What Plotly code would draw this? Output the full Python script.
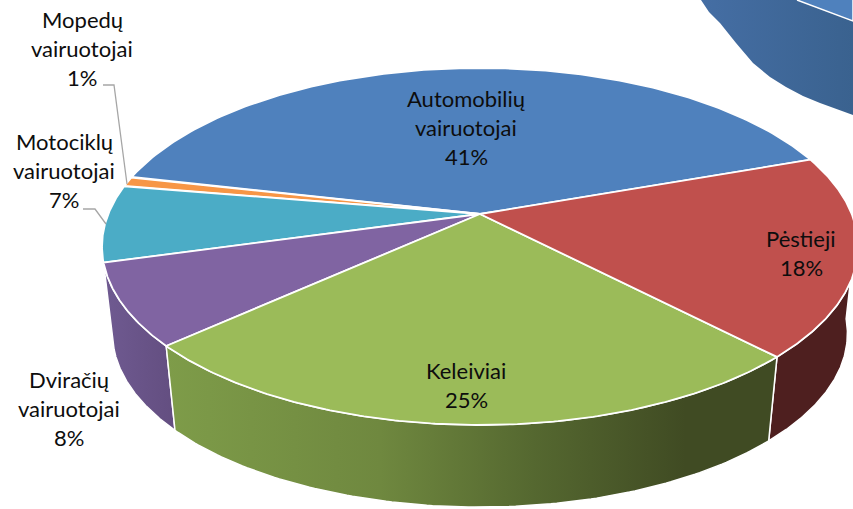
import numpy as np
import plotly.graph_objects as go

categories = ["Automobilių vairuotojai", "Pėstieji", "Keleiviai", "Dviračių vairuotojai", "Motociklų vairuotojai", "Mopedų vairuotojai"]
values = [41.0, 18.2, 25.5, 7.4, 7.0, 0.9]
percent_labels = ["41%", "18%", "25%", "8%", "7%", "1%"]
label_lines = [["Automobilių", "vairuotojai"], ["Pėstieji"], ["Keleiviai"], ["Dviračių", "vairuotojai"], ["Motociklų", "vairuotojai"], ["Mopedų", "vairuotojai"]]
label_x = [466, 801, 466, 69, 64, 82]
label_y = [98.5, 238.5, 370.5, 379.5, 141.5, 19.5]
top_colors = ["#4F81BD", "#C0504D", "#9BBB59", "#8064A2", "#4BACC6", "#F79646"]

# Perspective of the pie
CX, Y0, Y1, R, B, K, S = 480.0, 214.0, 302.0, 371.7, 172.6, 0.182, 0.972
START_DEG = 19.5


def top(t):
    u, v = np.cos(t), np.sin(t)
    w = 1 + K * v
    return CX + R * u / w, Y0 - B * v / w


def base(t):
    u, v = np.cos(t), np.sin(t)
    w = 1 + K * v
    return CX + S * R * u / w, Y1 - S * B * v / w


degrees = np.array(values) / sum(values) * 360
# Order on the circle, counter-clockwise from the blue/red border
ccw_order = [0, 5, 4, 3, 2, 1]
spans = {}
a = START_DEG
for i in ccw_order:
    spans[i] = (a, a + degrees[i])
    a += degrees[i]

fig = go.Figure()

# Fragment of the neighbouring pie, top right
frag_x = [701, 709, 720, 736, 753, 770, 786, 803, 820, 836, 853, 853, 797]
frag_y = [0, 12, 23, 43, 63, 77, 87, 96, 103, 109, 115, 21, 0]
frag_top_x = [797, 853, 853]
frag_top_y = [0, 21, 0]
fig.add_trace(go.Scatter(x=frag_x, y=frag_y, mode="lines", line=dict(color="rgba(0,0,0,0)", width=0),
                         fill="toself", hoverinfo="skip",
                         fillgradient=dict(type="horizontal", colorscale=[[0, "#456EA4"], [1, "#3A628F"]])))
fig.add_trace(go.Scatter(x=frag_top_x, y=frag_top_y, mode="lines", line=dict(color="white", width=1.5),
                         fill="toself", fillcolor="#4F81BD", hoverinfo="skip"))

# Walls
walls = [
    (3, [[0, "#6F5A91"], [1, "#634E80"]], spans[3][0], spans[3][1]),
    (1, [[0, "#4E1F1F"], [1, "#4E1F1F"]], spans[1][0], 355),
    (2, [[0, "#7E9C49"], [0.35, "#6F883F"], [0.6, "#556830"], [0.85, "#404B23"], [1, "#404B23"]], spans[2][0], spans[2][1]),
]
for idx, scale, d0, d1 in walls:
    t = np.radians(np.linspace(d0, d1, 120))
    xt, yt = top(t)
    xb, yb = base(t)
    fig.add_trace(go.Scatter(x=np.r_[xt, xb[::-1], xt[0]], y=np.r_[yt, yb[::-1], yt[0]], mode="lines",
                             line=dict(color="white", width=1.5), fill="toself", hoverinfo="skip",
                             fillgradient=dict(type="horizontal", colorscale=scale)))

# Top faces
for i in ccw_order:
    d0, d1 = spans[i]
    t = np.radians(np.linspace(d0, d1, 160))
    xt, yt = top(t)
    fig.add_trace(go.Scatter(x=np.r_[CX, xt, CX], y=np.r_[Y0, yt, Y0], mode="lines",
                             line=dict(color="white", width=1.8), fill="toself", fillcolor=top_colors[i],
                             name=categories[i], hoverinfo="skip"))

# Leader lines
for lx, ly in [([103, 114, 127], [85, 85, 184]), ([83, 95, 106], [209, 209, 224])]:
    fig.add_trace(go.Scatter(x=lx, y=ly, mode="lines", line=dict(color="#A6A6A6", width=1.3), hoverinfo="skip"))

# Labels
LINE_GAP = 29
for lines, pct, x, y in zip(label_lines, percent_labels, label_x, label_y):
    for j, text in enumerate(lines + [pct]):
        fig.add_annotation(x=x, y=y + j * LINE_GAP, text=text, showarrow=False,
                           xanchor="center", yanchor="middle",
                           font=dict(family="Lato, Carlito, sans-serif", size=22, color="#0D0D0D"))

fig.update_layout(width=853, height=509, margin=dict(l=0, r=0, t=0, b=0), showlegend=False,
                  paper_bgcolor="white", plot_bgcolor="white",
                  xaxis=dict(range=[0, 853], visible=False, fixedrange=True),
                  yaxis=dict(range=[509, 0], visible=False, fixedrange=True))
fig.write_html("out.html", config=dict(displayModeBar=False),
               post_script="document.body.style.margin='0';document.documentElement.style.overflow='hidden';")
